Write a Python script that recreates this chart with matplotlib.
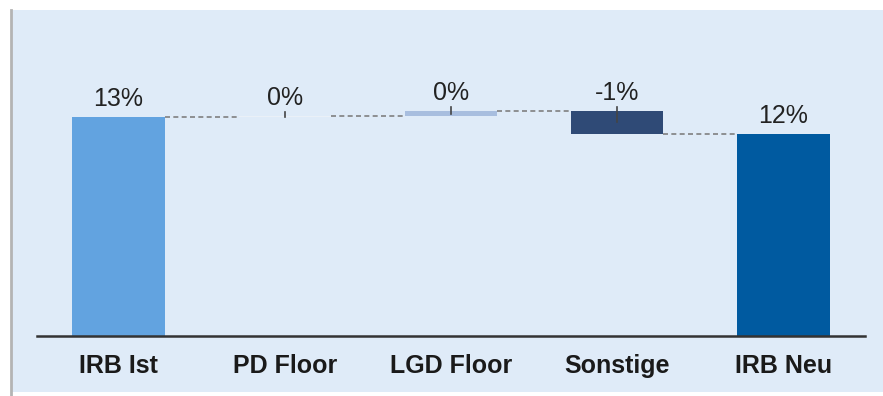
import numpy as np
import matplotlib.pyplot as plt

plt.rcParams['font.family'] = ['Liberation Sans', 'DejaVu Sans']

categories = ["IRB Ist", "PD Floor", "LGD Floor", "Sonstige", "IRB Neu"]
start_value = 13.0
deltas = [0.05, 0.3, -1.35]
value_labels = ["13%", "0%", "0%", "-1%", "12%"]
colors = ["#62a3e0", "#eaf0f7", "#a8bedf", "#2f4a76", "#005aa0"]

# waterfall bottoms/heights
levels = np.concatenate([[start_value], start_value + np.cumsum(deltas)])
end_value = levels[-1]
bottoms = [0.0]
heights = [start_value]
for i, d in enumerate(deltas):
    bottoms.append(min(levels[i], levels[i + 1]))
    heights.append(abs(d))
bottoms.append(0.0)
heights.append(end_value)
tops = [b + h for b, h in zip(bottoms, heights)]

fig = plt.figure(figsize=(8.83, 3.96), dpi=100)

# light blue panel behind the chart, grey rule on its left edge
bg = fig.add_axes([12 / 883, 4 / 396, 1 - 12 / 883, 382 / 396], zorder=0)
bg.set_facecolor("#dfebf8")
bg.set_xticks([])
bg.set_yticks([])
for s in bg.spines.values():
    s.set_visible(False)
fig.add_artist(plt.Line2D([11 / 883, 11 / 883], [0, 386 / 396],
                          transform=fig.transFigure, color="#b4b4b4", lw=2))

ax = fig.add_axes([37 / 883, 60 / 396, 828 / 883, 326 / 396], zorder=1)
ax.patch.set_alpha(0)

x = np.arange(len(categories))
width = 0.555
ax.bar(x, heights, bottom=bottoms, width=width, color=colors, zorder=2)

# dashed connectors between bars
run = list(levels)
for i in range(len(categories) - 1):
    ax.plot([x[i] + width / 2, x[i + 1] - width / 2], [run[i], run[i]],
            ls=(0, (3, 2)), color="#808080", lw=1.2, zorder=1)

# small leader ticks on the delta bars
for i in range(1, len(categories) - 1):
    mid = bottoms[i] + heights[i] / 2
    ax.plot([x[i], x[i]], [tops[i] + 0.25, mid], color="#444444", lw=1.2, zorder=3)

for xi, t, lab in zip(x, tops, value_labels):
    ax.annotate(lab, (xi, t), xytext=(0, 8), textcoords="offset points",
                ha="center", va="baseline", fontsize=18, color="#222222")

ax.set_xlim(-0.49, 4.49)
ax.set_ylim(0, 326 / 16.85)
ax.set_xticks(x)
ax.set_xticklabels(categories, fontsize=18, fontweight="bold", color="#1a1a1a")
ax.tick_params(axis="x", length=0, pad=13)
ax.set_yticks([])
for s in ["top", "right", "left"]:
    ax.spines[s].set_visible(False)
ax.spines["bottom"].set_color("#333333")
ax.spines["bottom"].set_linewidth(1.8)

fig.savefig("out.png", dpi=100, facecolor="white")
